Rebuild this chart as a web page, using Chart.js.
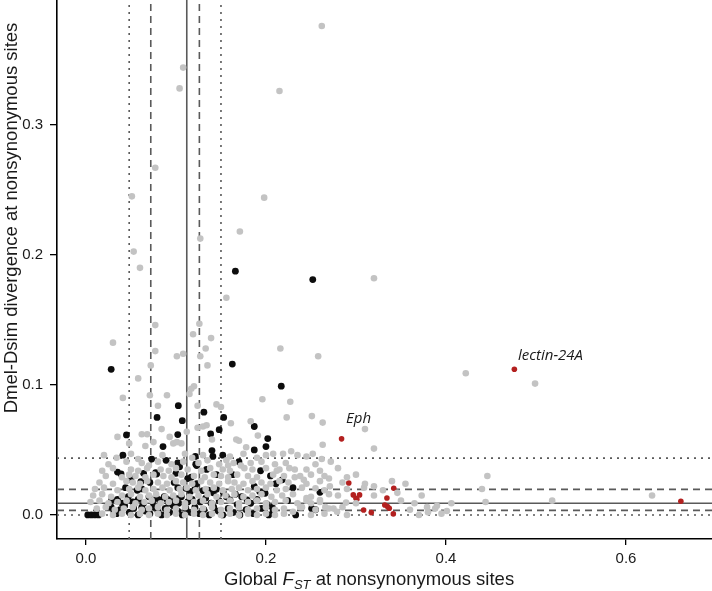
<!DOCTYPE html>
<html>
<head>
<meta charset="utf-8">
<script src="https://cdn.jsdelivr.net/npm/chart.js@4.4.1/dist/chart.umd.min.js"></script>
<style>
  html, body { margin: 0; padding: 0; background: #fff; overflow: hidden; }
  #wrap { width: 712px; height: 591px; overflow: hidden; }
  /* point overflow padding of 4px is pushed off the page */
  #fstChart { display: block; margin-top: -4px; }
</style>
</head>
<body>
<div id="wrap"><canvas id="fstChart" width="716" height="595"></canvas></div>
<script>
// axis ticks
const xTicks = [0, 0.2, 0.4, 0.6];
const yTicks = [0, 0.1, 0.2, 0.3];

// reference lines
const vLineValues = [0.048, 0.072, 0.112, 0.126, 0.150];
const vLineStyles = ['dotted', 'dashed', 'solid', 'dashed', 'dotted'];
const hLineValues = [0.0, 0.0035, 0.009, 0.0197, 0.0437];
const hLineStyles = ['dotted', 'dashed', 'solid', 'dashed', 'dotted'];

// gene labels
const geneLabels = ['Eph', 'lectin-24A'];
const geneLabelX = [0.289, 0.48];
const geneLabelY = [0.0708, 0.119];

// all genes: [global Fst, Dmel-Dsim divergence]
const grayPoints = [
  [0.262,0.376],[0.108,0.344],[0.104,0.328],[0.215,0.326],[0.077,0.267],[0.051,0.245],
  [0.198,0.244],[0.171,0.218],[0.127,0.2125],[0.053,0.2025],[0.060,0.190],[0.156,0.167],
  [0.320,0.182],[0.258,0.122],[0.422,0.109],[0.499,0.101],
  [0.030,0.1325],[0.077,0.146],[0.077,0.126],[0.072,0.115],[0.058,0.105],[0.041,0.090],
  [0.126,0.147],[0.119,0.139],[0.139,0.136],[0.133,0.128],[0.127,0.122],[0.101,0.122],
  [0.108,0.124],[0.135,0.115],[0.216,0.128],[0.227,0.087],[0.223,0.075],[0.196,0.089],
  [0.117,0.097],[0.120,0.099],[0.115,0.093],[0.124,0.084],[0.090,0.092],[0.080,0.084],
  [0.071,0.092],[0.150,0.083],[0.145,0.085],[0.161,0.0705],[0.134,0.069],[0.130,0.068],
  [0.124,0.067],[0.093,0.060],[0.084,0.066],[0.062,0.062],[0.068,0.062],[0.191,0.061],
  [0.178,0.052],[0.167,0.058],[0.170,0.057],[0.208,0.047],[0.219,0.047],[0.228,0.049],
  [0.235,0.046],[0.066,0.053],[0.075,0.056],[0.097,0.055],[0.101,0.056],[0.106,0.055],
  [0.156,0.042],[0.164,0.040],[0.251,0.076],[0.263,0.071],[0.310,0.066],[0.320,0.051],
  [0.263,0.054],[0.252,0.047],[0.215,0.035],[0.232,0.035],[0.238,0.030],[0.242,0.027],
  [0.300,0.031],[0.309,0.021],[0.320,0.022],[0.340,0.026],[0.355,0.024],[0.373,0.015],
  [0.446,0.030],[0.440,0.020],[0.444,0.010],[0.518,0.011],[0.629,0.015],[0.346,0.017],
  [0.365,0.009],[0.379,0.006],[0.388,0.005],[0.390,0.007],[0.406,0.009],[0.401,0.003],
  [0.270,0.028],[0.280,0.015],[0.271,0.022],[0.289,0.0095],[0.255,0.0205],[0.245,0.013],
  [0.250,0.009],[0.238,0.006],[0.230,0.0025],[0.260,0.0115],[0.266,0.006],[0.275,0.005],
  [0.279,0.0025],[0.035,0.060],[0.048,0.055],[0.140,0.058],[0.183,0.072],[0.112,0.064],
  [0.020,0.046],[0.034,0.044],[0.050,0.047],[0.058,0.043],[0.085,0.046],[0.110,0.047],
  [0.118,0.044],[0.130,0.046],[0.160,0.045],[0.175,0.047],[0.190,0.044],[0.200,0.046],
  [0.245,0.045],[0.262,0.043],
  [0.025,0.039],[0.045,0.041],[0.062,0.040],[0.070,0.038],[0.080,0.041],[0.095,0.039],
  [0.108,0.041],[0.125,0.040],[0.135,0.042],[0.148,0.039],[0.158,0.038],[0.172,0.038],
  [0.183,0.040],[0.195,0.041],[0.210,0.039],[0.222,0.040],[0.255,0.039],[0.272,0.041],
  [0.018,0.034],[0.030,0.036],[0.050,0.035],[0.058,0.034],[0.068,0.036],[0.083,0.035],
  [0.092,0.034],[0.100,0.036],[0.113,0.035],[0.128,0.034],[0.138,0.036],[0.152,0.035],
  [0.160,0.034],[0.176,0.036],[0.185,0.035],[0.200,0.036],[0.212,0.034],[0.226,0.036],
  [0.245,0.035],[0.260,0.034],[0.280,0.036],
  [0.022,0.030],[0.040,0.029],[0.048,0.031],[0.055,0.030],[0.066,0.029],[0.075,0.031],
  [0.086,0.030],[0.095,0.029],[0.106,0.031],[0.120,0.030],[0.132,0.029],[0.142,0.031],
  [0.150,0.030],[0.158,0.029],[0.168,0.031],[0.180,0.030],[0.190,0.029],[0.208,0.031],
  [0.220,0.030],[0.232,0.029],[0.250,0.031],[0.265,0.030],[0.290,0.029],
  [0.015,0.025],[0.030,0.024],[0.045,0.026],[0.052,0.025],[0.060,0.024],[0.068,0.026],
  [0.080,0.025],[0.090,0.024],[0.100,0.026],[0.108,0.025],[0.118,0.024],[0.128,0.026],
  [0.138,0.025],[0.148,0.024],[0.158,0.026],[0.165,0.025],[0.175,0.024],[0.185,0.026],
  [0.195,0.025],[0.205,0.024],[0.215,0.026],[0.225,0.025],[0.245,0.024],[0.260,0.026],
  [0.285,0.025],[0.310,0.024],
  [0.010,0.020],[0.020,0.021],[0.035,0.019],[0.048,0.020],[0.058,0.021],[0.066,0.019],
  [0.075,0.020],[0.085,0.021],[0.093,0.019],[0.104,0.020],[0.112,0.021],[0.122,0.019],
  [0.133,0.020],[0.142,0.021],[0.152,0.019],[0.162,0.020],[0.170,0.021],[0.180,0.019],
  [0.190,0.020],[0.200,0.021],[0.212,0.019],[0.222,0.020],[0.240,0.021],[0.265,0.019],
  [0.290,0.020],[0.330,0.019],
  [0.008,0.015],[0.018,0.016],[0.028,0.014],[0.040,0.015],[0.050,0.016],[0.060,0.014],
  [0.070,0.015],[0.078,0.016],[0.088,0.014],[0.097,0.015],[0.106,0.016],[0.115,0.014],
  [0.125,0.015],[0.135,0.016],[0.145,0.014],[0.155,0.015],[0.165,0.016],[0.175,0.014],
  [0.185,0.015],[0.195,0.016],[0.206,0.014],[0.218,0.015],[0.230,0.016],[0.250,0.014],
  [0.270,0.016],[0.320,0.015],
  [0.005,0.010],[0.015,0.011],[0.025,0.009],[0.035,0.010],[0.045,0.011],[0.055,0.009],
  [0.065,0.010],[0.073,0.011],[0.083,0.009],[0.092,0.010],[0.100,0.011],[0.110,0.009],
  [0.120,0.010],[0.130,0.011],[0.140,0.009],[0.150,0.010],[0.160,0.011],[0.170,0.009],
  [0.180,0.010],[0.190,0.011],[0.200,0.009],[0.210,0.010],[0.222,0.011],[0.235,0.009],
  [0.245,0.011],[0.260,0.010],[0.300,0.009],[0.350,0.011],
  [0.012,0.005],[0.022,0.006],[0.032,0.004],[0.042,0.005],[0.052,0.006],[0.062,0.004],
  [0.070,0.005],[0.080,0.006],[0.090,0.004],[0.100,0.005],[0.110,0.006],[0.120,0.004],
  [0.130,0.005],[0.140,0.006],[0.150,0.004],[0.160,0.005],[0.170,0.006],[0.180,0.004],
  [0.190,0.005],[0.200,0.006],[0.210,0.004],[0.220,0.005],[0.240,0.006],[0.255,0.004],
  [0.270,0.005],[0.285,0.006],[0.360,0.004],[0.380,0.002],
  [0.018,0.001],[0.030,0.0],[0.040,0.001],[0.050,0.0],[0.060,0.001],[0.070,0.0],
  [0.080,0.001],[0.090,0.0],[0.100,0.001],[0.110,0.0],[0.120,0.001],[0.130,0.0],
  [0.140,0.001],[0.150,0.0],[0.160,0.001],[0.170,0.0],[0.180,0.001],[0.190,0.0],
  [0.200,0.001],[0.210,0.0],[0.220,0.001],[0.250,0.0],[0.265,0.001],[0.290,0.0],
  [0.370,0.0],[0.395,0.001]
];

// genes highlighted in black
const blackPoints = [
  [0.028,0.112],[0.1626,0.116],[0.217,0.099],[0.1026,0.084],[0.079,0.075],[0.107,0.0725],
  [0.131,0.079],[0.153,0.075],[0.148,0.0656],[0.1385,0.0623],[0.102,0.0618],[0.045,0.0615],
  [0.187,0.068],[0.202,0.0587],[0.200,0.0526],[0.187,0.050],[0.0856,0.0526],[0.041,0.046],
  [0.1215,0.045],[0.140,0.0495],[0.141,0.045],[0.152,0.046],[0.170,0.041],[0.073,0.043],
  [0.089,0.042],[0.102,0.040],[0.104,0.037],[0.035,0.033],[0.039,0.0315],[0.064,0.032],
  [0.061,0.0256],[0.0774,0.0326],[0.0785,0.0315],[0.122,0.039],[0.123,0.038],[0.113,0.028],
  [0.117,0.029],[0.100,0.032],[0.098,0.025],[0.102,0.021],[0.134,0.035],[0.145,0.031],
  [0.163,0.031],[0.194,0.034],[0.205,0.030],[0.211,0.024],[0.218,0.027],[0.230,0.021],
  [0.224,0.011],[0.233,0.000],[0.166,0.016],[0.173,0.014],[0.179,0.0115],[0.187,0.022],
  [0.193,0.018],[0.199,0.0167],[0.2007,0.0085],[0.207,0.006],[0.208,0.003],[0.0285,0.0115],
  [0.031,0.003],[0.002,0.0],[0.006,0.0],[0.010,0.0],[0.014,0.0],[0.044,0.021],
  [0.050,0.028],[0.057,0.019],[0.062,0.020],[0.071,0.025],[0.070,0.014],[0.0785,0.0128],
  [0.082,0.0115],[0.087,0.014],[0.0896,0.0123],[0.095,0.0115],[0.100,0.0128],[0.106,0.014],
  [0.111,0.0205],[0.116,0.018],[0.121,0.0198],[0.123,0.024],[0.130,0.0187],[0.136,0.019],
  [0.1415,0.017],[0.145,0.0198],[0.1526,0.0172],[0.156,0.014],[0.160,0.0115],[0.252,0.181],
  [0.166,0.1875],[0.2507,0.005],[0.255,0.004],[0.260,0.0174],
  [0.028,0.006],[0.034,0.001],[0.038,0.004],[0.043,0.007],[0.048,0.002],[0.053,0.005],
  [0.058,0.0],[0.062,0.006],[0.066,0.003],[0.071,0.001],[0.075,0.006],[0.080,0.003],
  [0.084,0.0],[0.088,0.005],[0.093,0.002],[0.097,0.007],[0.102,0.003],[0.107,0.0],
  [0.111,0.005],[0.116,0.002],[0.121,0.006],[0.126,0.001],[0.131,0.004],[0.137,0.0],
  [0.142,0.006],[0.147,0.003],[0.152,0.0],[0.158,0.005],[0.164,0.002],[0.171,0.0],
  [0.178,0.004],[0.186,0.001],[0.195,0.005],[0.203,0.0],
  [0.035,0.012],[0.040,0.009],[0.047,0.014],[0.052,0.010],[0.058,0.012],[0.064,0.009],
  [0.074,0.010],[0.092,0.009],[0.103,0.009],[0.113,0.010],[0.118,0.012],[0.127,0.010],
  [0.133,0.013],[0.139,0.009],[0.148,0.011],[0.168,0.008],[0.183,0.009],[0.190,0.012]
];

// genes highlighted in red
const redPoints = [
  [0.284,0.0585],[0.476,0.112],[0.292,0.0246],[0.342,0.0205],[0.297,0.0154],[0.300,0.0128],
  [0.304,0.0154],[0.301,0.012],[0.3085,0.0038],[0.317,0.0018],[0.3344,0.013],[0.332,0.0077],
  [0.335,0.0064],[0.337,0.0051],[0.3415,0.0008],[0.661,0.0105]
];

const toXY = pts => pts.map(p => ({ x: p[0], y: p[1] }));
const dashFor = { solid: [], dashed: [7, 5], dotted: [2, 5] };
const FONT = '"Liberation Sans", Arial, sans-serif';
const SHIFT = 4; // canvas is moved up by this much

const refLines = {
    id: 'refLines',
    beforeDatasetsDraw(chart) {
        const { ctx, chartArea, scales } = chart;
        ctx.save();
        ctx.strokeStyle = '#5a5a5a';
        ctx.lineWidth = 1.6;
        vLineValues.forEach((v, i) => {
            const px = scales.x.getPixelForValue(v);
            ctx.setLineDash(dashFor[vLineStyles[i]]);
            ctx.beginPath();
            ctx.moveTo(px, chartArea.bottom);
            ctx.lineTo(px, chartArea.top);
            ctx.stroke();
        });
        hLineValues.forEach((v, i) => {
            const py = scales.y.getPixelForValue(v);
            ctx.setLineDash(dashFor[hLineStyles[i]]);
            ctx.beginPath();
            ctx.moveTo(chartArea.left, py);
            ctx.lineTo(chartArea.right, py);
            ctx.stroke();
        });
        ctx.restore();
    }
};

const textLayer = {
    id: 'textLayer',
    afterDraw(chart) {
        const { ctx, scales } = chart;
        ctx.save();
        ctx.fillStyle = '#1a1a1a';

        // gene labels
        ctx.font = 'italic 15px "Open Sans", sans-serif';
        ctx.textBaseline = 'alphabetic';
        ctx.textAlign = 'left';
        geneLabels.forEach((t, i) => {
            ctx.fillText(t, scales.x.getPixelForValue(geneLabelX[i]), scales.y.getPixelForValue(geneLabelY[i]));
        });

        // x title with subscript
        const parts = [
            { t: 'Global ', f: '18.5px ' + FONT, dy: 0 },
            { t: 'F', f: 'italic 18.5px ' + FONT, dy: 0 },
            { t: 'ST', f: 'italic 13px ' + FONT, dy: 4 },
            { t: ' at nonsynonymous sites', f: '18.5px ' + FONT, dy: 0 }
        ];
        let cx = 224;
        parts.forEach(p => {
            ctx.font = p.f;
            ctx.fillText(p.t, cx, 585 + SHIFT + p.dy);
            cx += ctx.measureText(p.t).width;
        });

        // y title
        ctx.translate(17, 218 + SHIFT);
        ctx.rotate(-Math.PI / 2);
        ctx.textAlign = 'center';
        ctx.font = '18.5px ' + FONT;
        ctx.fillText('Dmel-Dsim divergence at nonsynonymous sites', 0, 0);
        ctx.restore();
    }
};

const ctx = document.getElementById('fstChart').getContext('2d');
const fstChart = new Chart(ctx, {
    type: 'scatter',
    data: {
        datasets: [
            { data: toXY(grayPoints), backgroundColor: '#c3c3c3', pointRadius: 3.3, pointBorderWidth: 0 },
            { data: toXY(blackPoints), backgroundColor: '#0d0d0d', pointRadius: 3.4, pointBorderWidth: 0 },
            { data: toXY(redPoints), backgroundColor: '#b3201f', pointRadius: 2.8, pointBorderWidth: 0 }
        ]
    },
    options: {
        responsive: false,
        devicePixelRatio: 1,
        animation: false,
        events: [],
        layout: { padding: 0 },
        plugins: { legend: { display: false }, tooltip: { enabled: false } },
        scales: {
            x: {
                type: 'linear',
                min: -0.0322,
                max: 0.6956,
                afterBuildTicks: s => { s.ticks = xTicks.map(v => ({ value: v })); },
                afterFit: s => { s.height = 52; s.paddingLeft = 0; s.paddingRight = 0; },
                grid: { drawOnChartArea: false, drawTicks: true, tickLength: 6, color: '#000', lineWidth: 1.3 },
                border: { display: true, color: '#000', width: 1.6 },
                ticks: { padding: 5, color: '#1a1a1a', font: { family: FONT, size: 15 }, callback: v => v.toFixed(1) }
            },
            y: {
                type: 'linear',
                min: -0.0185,
                max: 0.396,
                afterBuildTicks: s => { s.ticks = yTicks.map(v => ({ value: v })); },
                afterFit: s => { s.width = 57; s.paddingTop = 0; s.paddingBottom = 0; },
                grid: { drawOnChartArea: false, drawTicks: true, tickLength: 7, color: '#000', lineWidth: 1.3 },
                border: { display: true, color: '#000', width: 1.6 },
                ticks: { padding: 7, color: '#1a1a1a', font: { family: FONT, size: 15 }, callback: v => v.toFixed(1) }
            }
        }
    },
    plugins: [refLines, textLayer]
});
</script>
</body>
</html>
